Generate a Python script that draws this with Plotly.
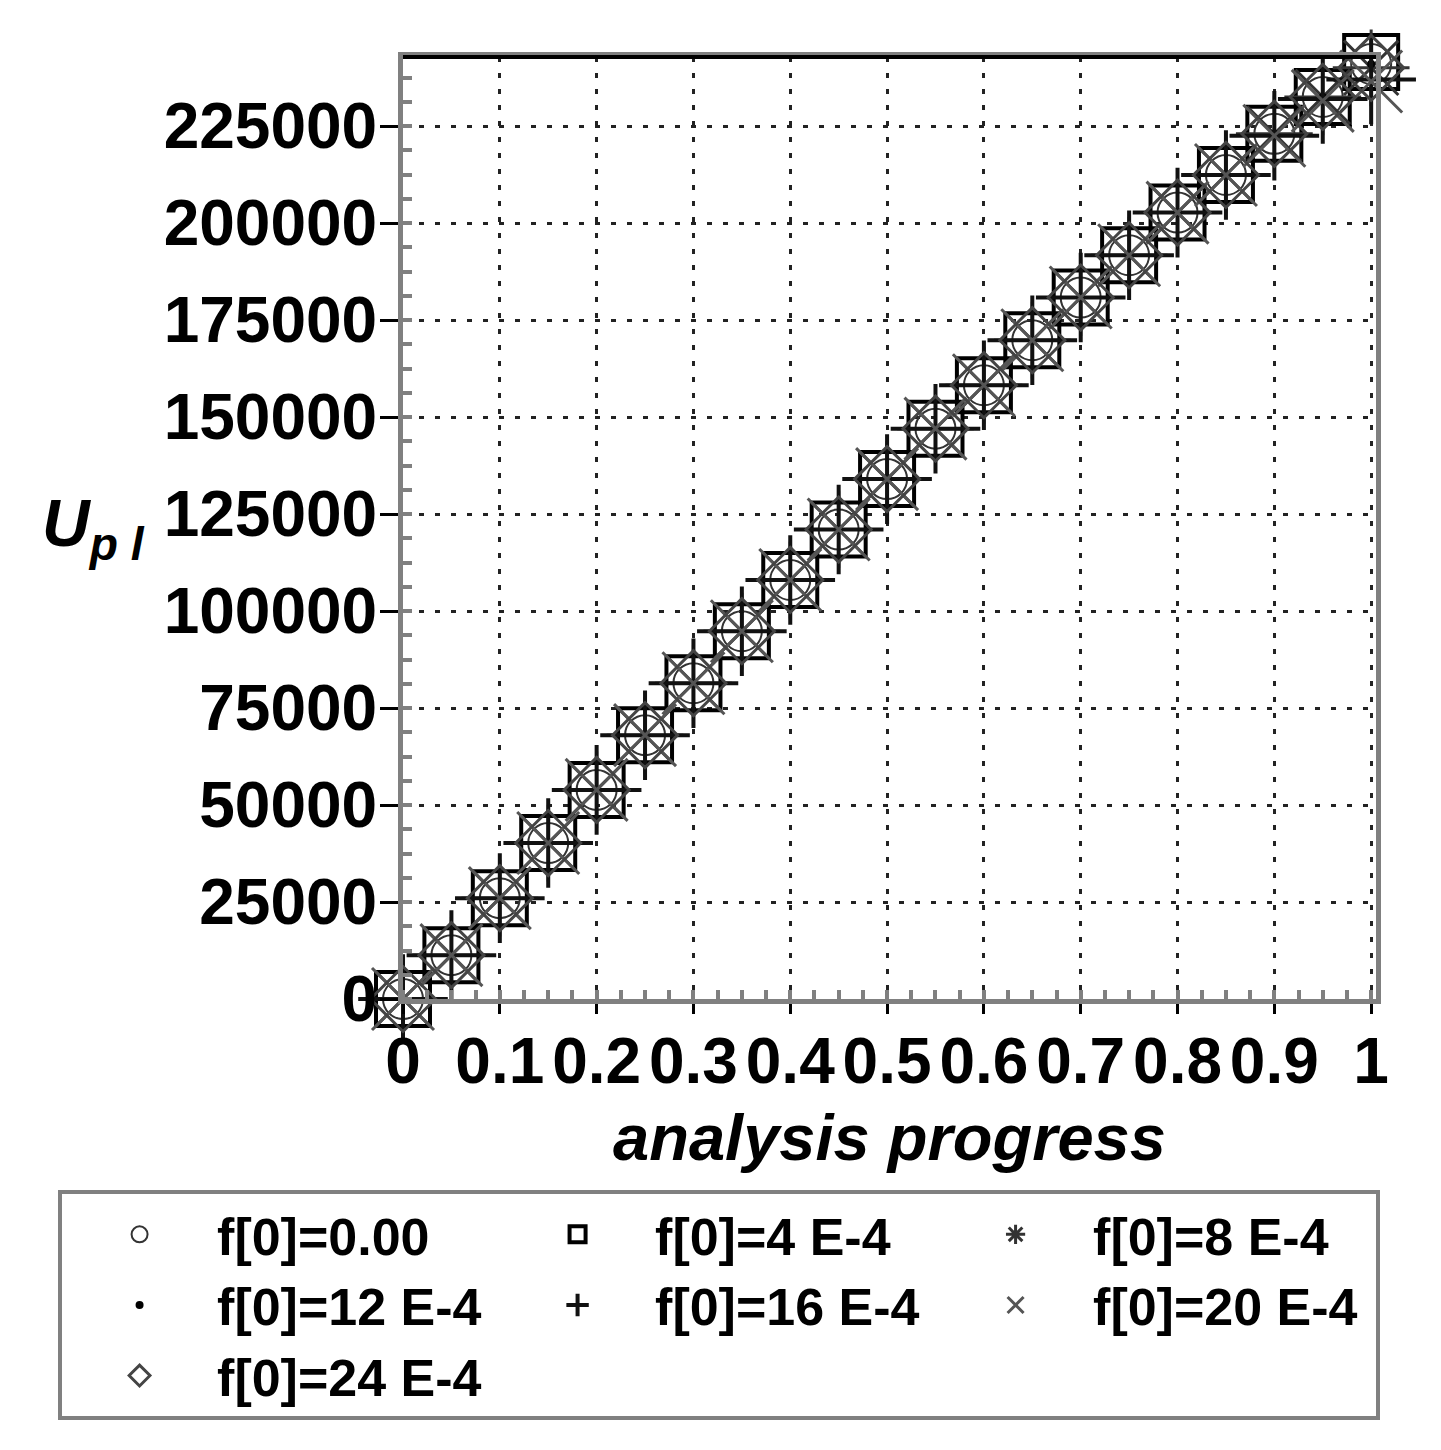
import plotly.graph_objects as go

# analysis progress (x) and U_pl values
progress = [0.0, 0.05, 0.1, 0.15, 0.2, 0.25, 0.3, 0.35, 0.4, 0.45, 0.5,
            0.55, 0.6, 0.65, 0.7, 0.75, 0.8, 0.85, 0.9, 0.95, 1.0]

u_pl_f000 = [0, 11300, 26000, 40200, 53900, 68000, 81400, 94800, 108000, 121000, 134000,
             147000, 158200, 169800, 180800, 191700, 202700, 212400, 223000, 232500, 241000]
u_pl_f04 = [0, 11300, 26000, 40200, 53900, 68000, 81400, 94800, 108000, 121000, 134000,
            147000, 158200, 169800, 180800, 191700, 202700, 212400, 223000, 232500, 241500]
u_pl_f08 = [0, 11300, 26000, 40200, 53900, 68000, 81400, 94800, 108000, 121000, 134000,
            147000, 158200, 169800, 180800, 191700, 202700, 212400, 223000, 232500, 240000]
u_pl_f12 = [0, 11300, 26000, 40200, 53900, 68000, 81400, 94800, 108000, 121000, 134000,
            147000, 158200, 169800, 180800, 191700, 202700, 212400, 223000, 232500, 241000]
u_pl_f16 = [0, 11300, 26000, 40200, 53900, 68000, 81400, 94800, 108000, 121000, 134000,
            147000, 158200, 169800, 180800, 191700, 202700, 212400, 222500, 232000, 237000]
u_pl_f20 = [0, 11300, 26000, 40200, 53900, 68000, 81400, 94800, 108000, 121000, 134000,
            147000, 158200, 169800, 180800, 191700, 202700, 212400, 222500, 231500, 236500]
u_pl_f24 = [0, 11300, 26000, 40200, 53900, 68000, 81400, 94800, 108000, 121000, 134000,
            147000, 158200, 169800, 180800, 191700, 202700, 212400, 223000, 232500, 240000]

series_names = ["f[0]=0.00", "f[0]=4 E-4", "f[0]=8 E-4", "f[0]=12 E-4",
                "f[0]=16 E-4", "f[0]=20 E-4", "f[0]=24 E-4"]

x_ticks = [0, 0.1, 0.2, 0.3, 0.4, 0.5, 0.6, 0.7, 0.8, 0.9, 1]
x_tick_text = ["0", "0.1", "0.2", "0.3", "0.4", "0.5", "0.6", "0.7", "0.8", "0.9", "1"]
y_ticks = [0, 25000, 50000, 75000, 100000, 125000, 150000, 175000, 200000, 225000]

font_family = "Liberation Sans, Arial, sans-serif"

fig = go.Figure()

styles = [
    (u_pl_f000, "circle-open", "#333333", 40, 2),
    (u_pl_f04, "square-open", "black", 54, 4),
    (u_pl_f08, "asterisk-open", "#333333", 64, 3),
    (u_pl_f12, "circle", "black", 8, 0),
    (u_pl_f16, "cross-thin-open", "#111111", 64, 4),
    (u_pl_f20, "x-thin-open", "#555555", 62, 3),
    (u_pl_f24, "diamond-open", "#444444", 50, 3),
]

for name, (vals, sym, col, size, lw) in zip(series_names, styles):
    fig.add_trace(go.Scatter(
        x=progress, y=vals, name=name, mode="markers", cliponaxis=False,
        marker=dict(symbol=sym, color=col, size=size, line=dict(color=col, width=lw)),
    ))

tick_font = dict(family=font_family, size=64, color="black", weight="bold")

fig.update_xaxes(
    range=[0, 1.005], tickvals=x_ticks, ticktext=x_tick_text, tickangle=0,
    tickfont=tick_font, ticks="outside", ticklen=10, tickwidth=3, tickcolor="black",
    ticklabelstandoff=-8,
    showline=True, linecolor="#808080", linewidth=5, mirror=True,
    showgrid=True, gridcolor="#222222", gridwidth=3, griddash="5px,11px",
    zeroline=False,
    minor=dict(ticks="inside", dtick=0.025, ticklen=9, tickwidth=4, tickcolor="#808080", showgrid=False),
    title=dict(text="analysis progress", standoff=20,
               font=dict(family=font_family, size=65, color="black", weight="bold", style="italic")),
)
fig.update_yaxes(
    range=[0, 242800], tickvals=y_ticks, tickformat="d",
    tickfont=tick_font, ticks="outside", ticklen=18, tickwidth=3, tickcolor="black",
    ticklabelstandoff=-10,
    showline=True, linecolor="#808080", linewidth=5, mirror=True,
    showgrid=True, gridcolor="#222222", gridwidth=3, griddash="5px,11px",
    zeroline=False,
    minor=dict(ticks="inside", dtick=6250, ticklen=9, tickwidth=4, tickcolor="#808080", showgrid=False),
)

# black top border
fig.add_shape(type="line", xref="paper", yref="paper", x0=0, x1=1, y0=1, y1=1,
              line=dict(color="black", width=4))

# horizontal y-axis title with subscript
fig.add_annotation(
    text="<i>U</i><sub><i>p l</i></sub>", xref="paper", yref="paper",
    x=-0.318, y=0.5, showarrow=False, xanchor="center", yanchor="middle",
    font=dict(family=font_family, size=66, color="black", weight="bold"),
)

fig.update_layout(
    width=1433, height=1442,
    margin=dict(l=395, r=65, t=49, b=451),
    plot_bgcolor="white", paper_bgcolor="white",
    font=dict(family=font_family, color="black"),
    legend=dict(
        orientation="h", x=-0.3545, y=-0.2028, xanchor="left", yanchor="top",
        entrywidth=278, entrywidthmode="pixels", itemwidth=145,
        bordercolor="#808080", borderwidth=4, bgcolor="white",
        font=dict(family=font_family, size=52, color="black", weight="bold"),
    ),
)

fig.write_html("out.html")
